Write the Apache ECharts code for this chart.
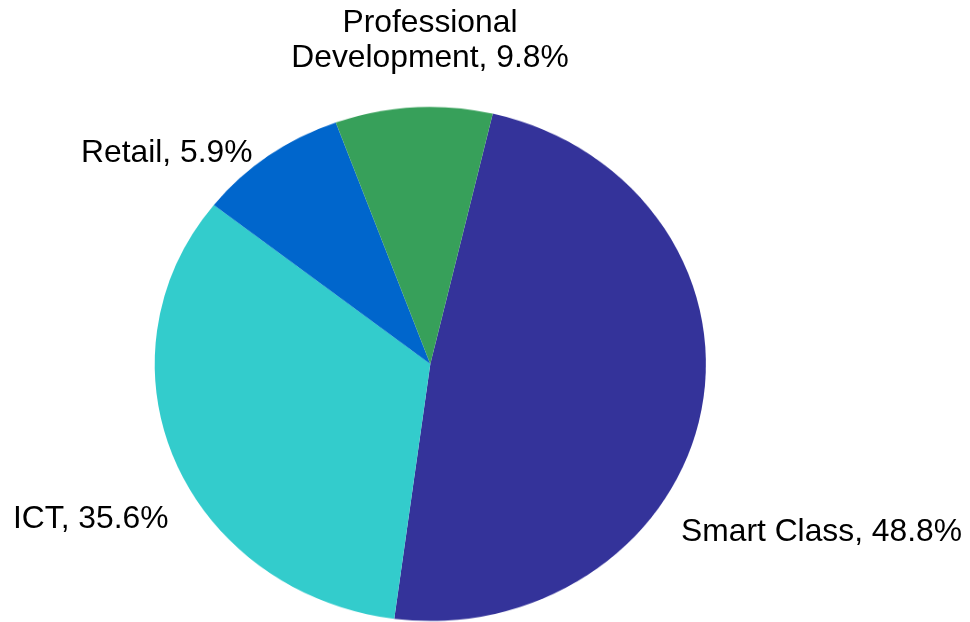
<!DOCTYPE html>
<html>
<head>
<meta charset="utf-8">
<script src="https://cdn.jsdelivr.net/npm/echarts@6/dist/echarts.min.js"></script>
<style>
  html, body { margin: 0; padding: 0; background: #fff; }
  #wrap { position: relative; width: 970px; height: 622px; overflow: hidden; }
  #pie { position: absolute; left: 0; top: 0; width: 970px; height: 700px; }
  #labels { position: absolute; left: 0; top: 0; width: 970px; height: 622px; }
  #pie { transform-origin: 430.3px 364px; transform: scaleY(0.9325); }
  #labels { pointer-events: none; }
</style>
</head>
<body>
<div id="wrap">
  <div id="pie"></div>
  <div id="labels"></div>
</div>
<script>
// ---- data ----
const categories = ['Smart Class', 'ICT', 'Retail', 'Professional Development'];
const sliceValues = [48.4, 33.5, 8.8, 9.2];          // slice sizes as drawn
const labelPercents = ['48.8%', '35.6%', '5.9%', '9.8%']; // percentages printed on labels
const colors = ['#34339A', '#33CCCC', '#0066CC', '#37A05A'];

// ---- label placement (style, not data) ----
const labelPlacement = [
  { x: 681, y: 532, align: 'left' },
  { x: 13, y: 519.5, align: 'left' },
  { x: 81, y: 153.5, align: 'left' },
  { x: 430, y: 40.5, align: 'center' }
];

const pieChart = echarts.init(document.getElementById('pie'), null, { renderer: 'canvas' });
pieChart.setOption({
  animation: false,
  backgroundColor: 'transparent',
  series: [{
    type: 'pie',
    center: [430.3, 364],
    radius: 275.6,
    startAngle: 76.9,
    clockwise: true,
    avoidLabelOverlap: false,
    label: { show: false },
    labelLine: { show: false },
    emphasis: { disabled: true },
    itemStyle: { borderWidth: 0 },
    data: categories.map((c, i) => ({ name: c, value: sliceValues[i], itemStyle: { color: colors[i] } }))
  }]
});

function labelText(i) {
  let name = categories[i];
  if (i === 3) name = name.replace(' ', '\n');
  return name + ', ' + labelPercents[i];
}

const labelChart = echarts.init(document.getElementById('labels'), null, { renderer: 'canvas' });
labelChart.setOption({
  animation: false,
  backgroundColor: 'transparent',
  graphic: categories.map((c, i) => ({
    type: 'text',
    x: labelPlacement[i].x,
    y: labelPlacement[i].y,
    style: {
      text: labelText(i),
      fill: '#000',
      font: '31.8px "Liberation Sans", Arial, sans-serif',
      align: labelPlacement[i].align,
      verticalAlign: 'middle',
      lineHeight: 35
    }
  }))
});
</script>
</body>
</html>
